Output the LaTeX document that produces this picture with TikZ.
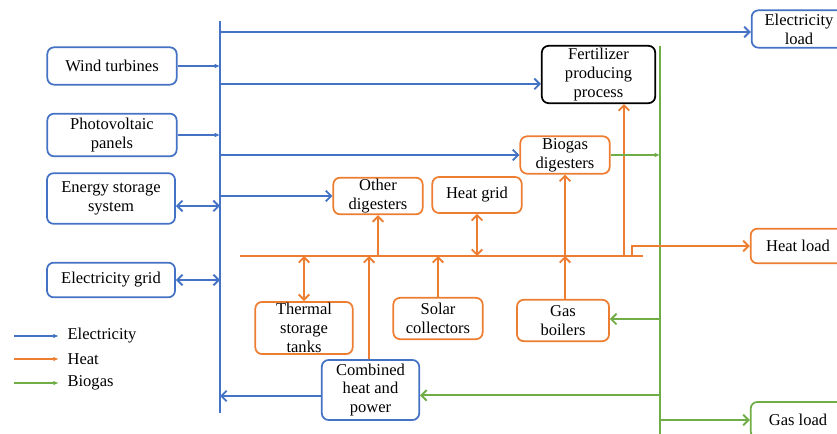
\documentclass[tikz,border=0pt]{standalone}
\usepackage{fontspec}
\setmainfont{Liberation Serif}
\usetikzlibrary{arrows.meta,positioning,calc}

\definecolor{elecblue}{HTML}{4472C4}
\definecolor{heatorange}{HTML}{ED7D31}
\definecolor{gasgreen}{HTML}{70AD47}

\begin{document}
\begin{tikzpicture}[x=0.75pt,y=-0.75pt,
    font=\fontsize{12.4}{14.2}\selectfont,
    box/.style={draw, rounded corners=5pt, line width=1.3pt, align=center, inner sep=1pt},
    ebox/.style={box, draw=elecblue},
    hbox/.style={box, draw=heatorange},
    gbox/.style={box, draw=gasgreen},
    eline/.style={elecblue, line width=1.4pt},
    hline/.style={heatorange, line width=1.4pt},
    gline/.style={gasgreen, line width=1.4pt},
    tipopen/.style={-{Straight Barb[length=4pt,width=8pt]}},
    tipboth/.style={{Straight Barb[length=4pt,width=8pt]}-{Straight Barb[length=4pt,width=8pt]}},
    tipfill/.style={-{Latex[length=4pt,width=3.5pt]}}]
    \clip (0,0) rectangle (837,434);

    % Buses
    \coordinate (eb-top) at (220,21);
    \coordinate (eb-bot) at (220,413);
    \coordinate (hb-l) at (240,256);
    \coordinate (hb-r) at (643,256);
    \coordinate (gb-top) at (660,46);
    \coordinate (gb-bot) at (660,440);
    \draw[eline] (eb-top) -- (eb-bot);
    \draw[hline] (hb-l) -- (hb-r);
    \draw[gline] (gb-top) -- (gb-bot);

    % Left: sources
    \node[ebox, minimum width=97pt, minimum height=28pt] (wind) at (112,66) {Wind turbines};
    \node[ebox, minimum width=97pt, minimum height=32pt] (pv) at (112,135) {Photovoltaic\\panels};
    \node[ebox, minimum width=96pt, minimum height=38pt] (ess) at (111,198.5) {Energy storage\\system};
    \node[ebox, minimum width=96pt, minimum height=26pt] (grid) at (111,280) {Electricity grid};

    \draw[eline, tipfill] (wind) -- (wind -| eb-top);
    \draw[eline, tipfill] (pv) -- (pv -| eb-top);
    \draw[eline, tipboth] ([yshift=-5.6pt]ess.east) -- ([yshift=-5.6pt]ess.east -| eb-top);
    \draw[eline, tipboth] (grid) -- (grid -| eb-top);

    % Middle: processes
    \node[draw, rounded corners=5pt, line width=1.3pt, align=center, inner sep=1pt,
        minimum width=85pt, minimum height=43pt] (fert) at (598.5,74.5) {Fertilizer\\producing\\process};
    \node[hbox, minimum width=67pt, minimum height=28pt] (biodig) at (565,155) {Biogas\\digesters};
    \node[hbox, minimum width=67pt, minimum height=27pt] (otherdig) at (378,196) {Other\\digesters};
    \node[hbox, minimum width=67pt, minimum height=27pt] (heatgrid) at (477,195) {Heat grid};
    \node[hbox, minimum width=73pt, minimum height=39pt] (thermal) at (304,328) {Thermal\\storage\\tanks};
    \node[hbox, minimum width=67pt, minimum height=31pt] (solar) at (438,318.5) {Solar\\collectors};
    \node[hbox, minimum width=69pt, minimum height=31pt] (boilers) at (563,320.5) {Gas\\boilers};
    \node[ebox, minimum width=73pt, minimum height=45pt] (chp) at (370.5,390) {Combined\\heat and\\power};

    % Right: loads
    \node[ebox, minimum width=71pt, minimum height=28pt] (eload) at (799,29) {Electricity\\load};
    \node[hbox, minimum width=71pt, minimum height=26pt] (hload) at (798,246) {Heat load};
    \node[gbox, minimum width=71pt, minimum height=27pt] (gload) at (798,420) {Gas load};

    % Electricity flows
    \draw[eline, tipopen] ([yshift=-2.25pt]eload.west -| eb-top) -- ([yshift=-2.25pt]eload.west);
    \draw[eline, tipopen] ([yshift=-7.1pt]fert.west -| eb-top) -- ([yshift=-7.1pt]fert.west);
    \draw[eline, tipopen] (biodig.west -| eb-top) -- (biodig.west);
    \draw[eline, tipopen] (otherdig.west -| eb-top) -- (otherdig.west);
    \draw[eline, tipopen] ([yshift=-4.5pt]chp.west) -- ([yshift=-4.5pt]chp.west -| eb-top);

    % Heat flows
    \draw[hline, tipboth] (thermal.north) -- (thermal.north |- hb-l);
    \draw[hline, tipopen] ([xshift=-1.1pt]chp.north) -- ([xshift=-1.1pt]chp.north |- hb-l);
    \draw[hline, tipopen] (solar.north) -- (solar.north |- hb-l);
    \draw[hline, tipopen] ([xshift=1.5pt]boilers.north) -- ([xshift=1.5pt]boilers.north |- hb-l);
    \draw[hline, tipopen] (otherdig.south |- hb-l) -- (otherdig.south);
    \draw[hline, tipboth] (heatgrid.south |- hb-l) -- (heatgrid.south);
    \draw[hline, tipopen] (biodig.south |- hb-l) -- (biodig.south);
    \draw[hline, tipopen] ([xshift=19.1pt]fert.south |- hb-l) -- ([xshift=19.1pt]fert.south);
    \coordinate (hl-foot) at (632,256);
    \draw[hline, tipopen] (hl-foot) |- (hload.west);

    % Biogas flows
    \draw[gline, tipfill] (biodig.east) -- (biodig.east -| gb-top);
    \draw[gline, tipopen] ([yshift=1.1pt]boilers.east -| gb-top) -- ([yshift=1.1pt]boilers.east);
    \draw[gline, tipopen] ([yshift=-4pt]chp.east -| gb-top) -- ([yshift=-4pt]chp.east);
    \draw[gline, tipopen] (gload.west -| gb-top) -- (gload.west);

    % Legend
    \node[anchor=west, inner sep=1pt] (lg-elec) at (66,336) {Electricity};
    \node[anchor=west, inner sep=1pt] (lg-heat) at (66,359) {Heat};
    \node[anchor=west, inner sep=1pt] (lg-gas) at (66,383) {Biogas};
    \draw[eline, tipfill] ([xshift=-39pt]lg-elec.west) -- ([xshift=-5.5pt]lg-elec.west);
    \draw[hline, tipfill] ([xshift=-39pt]lg-heat.west) -- ([xshift=-5.5pt]lg-heat.west);
    \draw[gline, tipfill] ([xshift=-39pt]lg-gas.west) -- ([xshift=-5.5pt]lg-gas.west);
\end{tikzpicture}
\end{document}
